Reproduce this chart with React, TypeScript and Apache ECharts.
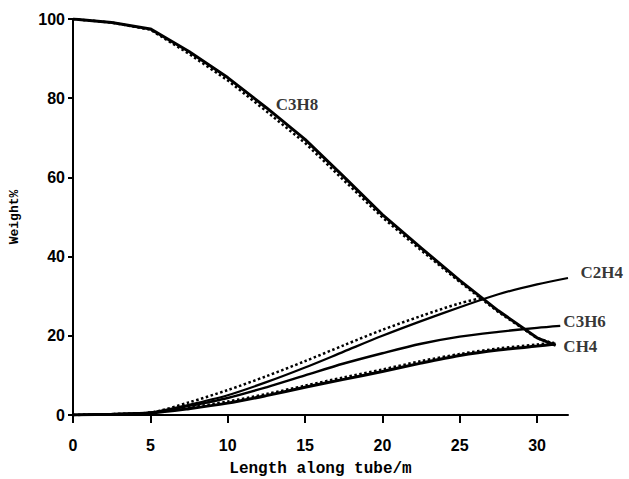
import React, { useEffect, useRef } from "react";
import * as echarts from "echarts";

const xTicks = [0, 5, 10, 15, 20, 25, 30];
const yTicks = [0, 20, 40, 60, 80, 100];

const c3h8Solid = [[0, 100], [2.5, 99.1], [5, 97.5], [7.5, 91.8], [10, 85.2], [12.5, 77.6], [15, 69.6], [17.5, 60.2], [20, 50.6], [22.5, 42.2], [25, 34], [27.5, 26.3], [30, 19.5], [31.2, 17.6]];
const c3h8Dotted = [[0, 100], [2.5, 99.1], [5, 97.3], [7.5, 91.2], [10, 84.5], [12.5, 76.7], [15, 68.7], [17.5, 59.3], [20, 49.9], [22.5, 41.6], [25, 33.6], [27.5, 26], [30, 19.4], [31.2, 17.9]];
const c2h4Solid = [[0, 0], [2.5, 0.2], [5, 0.6], [7.5, 2.6], [10, 5], [12.5, 8.3], [15, 12], [17.5, 16], [20, 20], [22.5, 23.7], [25, 27.2], [27.5, 30.5], [30, 33], [32, 34.6]];
const c2h4Dotted = [[0, 0], [2.5, 0.2], [5, 0.6], [7.5, 3.2], [10, 6.3], [12.5, 9.8], [15, 13.6], [17.5, 17.6], [20, 21.5], [22.5, 25], [25, 28.2], [26.5, 29.6]];
const c3h6Solid = [[0, 0], [2.5, 0.2], [5, 0.6], [7.5, 2.3], [10, 4.3], [12.5, 7], [15, 10], [17.5, 13], [20, 15.6], [22.5, 18], [25, 19.8], [27.5, 21], [30, 22], [31.5, 22.5]];
const ch4Solid = [[0, 0], [2.5, 0.2], [5, 0.5], [7.5, 1.6], [10, 3], [12.5, 4.9], [15, 7], [17.5, 9], [20, 11], [22.5, 13.1], [25, 15], [27.5, 16.4], [30, 17.4], [31.2, 17.9]];
const ch4Dotted = [[0, 0], [2.5, 0.2], [5, 0.6], [7.5, 1.9], [10, 3.4], [12.5, 5.3], [15, 7.4], [17.5, 9.5], [20, 11.5], [22.5, 13.6], [25, 15.4], [27.5, 16.8], [30, 17.8], [31.2, 18.3]];

const speciesLabels = [
  { name: "C3H8", x: 13.1, y: 78.3 },
  { name: "C2H4", x: 32.8, y: 35.9 },
  { name: "C3H6", x: 31.7, y: 23.5 },
  { name: "CH4", x: 31.7, y: 17.2 },
];

export default function App() {
  const ref = useRef<HTMLDivElement>(null);
  useEffect(() => {
    if (!ref.current) return;
    const chart = echarts.init(ref.current, undefined, { renderer: "svg" });
    const line = (data: number[][], width: number, type: string, smooth: number) => ({
      type: "line",
      data,
      showSymbol: false,
      smooth,
      lineStyle: { color: "#000", width, type },
      silent: true,
    });
    chart.setOption({
      animation: false,
      backgroundColor: "#fff",
      grid: { left: 73, right: 61, top: 19, bottom: 64, outerBoundsMode: "none", containLabel: false },
      xAxis: {
        type: "value",
        min: 0,
        max: 32,
        interval: 5,
        name: "Length along tube/m",
        nameLocation: "middle",
        nameGap: 46,
        nameTextStyle: { fontFamily: "Liberation Mono", fontWeight: "bold", fontSize: 16, color: "#000" },
        axisLine: { show: true, onZero: false, lineStyle: { color: "#000", width: 2 } },
        axisTick: { show: true, length: 8, lineStyle: { color: "#000", width: 2 }, customValues: xTicks },
        axisLabel: { margin: 22, fontFamily: "Liberation Sans", fontWeight: "bold", fontSize: 16, color: "#000", customValues: xTicks },
        splitLine: { show: false },
      },
      yAxis: {
        type: "value",
        min: 0,
        max: 100,
        interval: 20,
        name: "Weight%",
        nameLocation: "middle",
        nameGap: 52,
        nameRotate: 90,
        nameTextStyle: { fontFamily: "Liberation Mono", fontWeight: "bold", fontSize: 13, color: "#000" },
        axisLine: { show: true, lineStyle: { color: "#000", width: 2 } },
        axisTick: { show: true, length: 5, lineStyle: { color: "#000", width: 2 }, customValues: yTicks },
        axisLabel: { margin: 8, fontFamily: "Liberation Sans", fontWeight: "bold", fontSize: 16, color: "#000", customValues: yTicks },
        splitLine: { show: false },
      },
      series: [
        line(c3h8Dotted, 2.5, "dotted", 0),
        line(c3h8Solid, 3, "solid", 0),
        line(c2h4Dotted, 2.5, "dotted", 0.3),
        line(c2h4Solid, 2.2, "solid", 0.3),
        line(c3h6Solid, 2.4, "solid", 0.3),
        line(ch4Dotted, 2.5, "dotted", 0.3),
        line(ch4Solid, 3, "solid", 0.3),
        {
          type: "scatter",
          data: speciesLabels.map((l) => ({ value: [l.x, l.y], name: l.name })),
          symbolSize: 0,
          silent: true,
          clip: false,
          label: {
            show: true,
            position: "right",
            distance: 0,
            formatter: (p: any) => p.name,
            fontFamily: "Liberation Serif",
            fontWeight: "bold",
            fontSize: 17,
            color: "#000",
          },
        },
      ],
    });
    return () => chart.dispose();
  }, []);
  return <div ref={ref} style={{ position: "fixed", left: 0, top: 0, width: 629, height: 479 }} />;
}
